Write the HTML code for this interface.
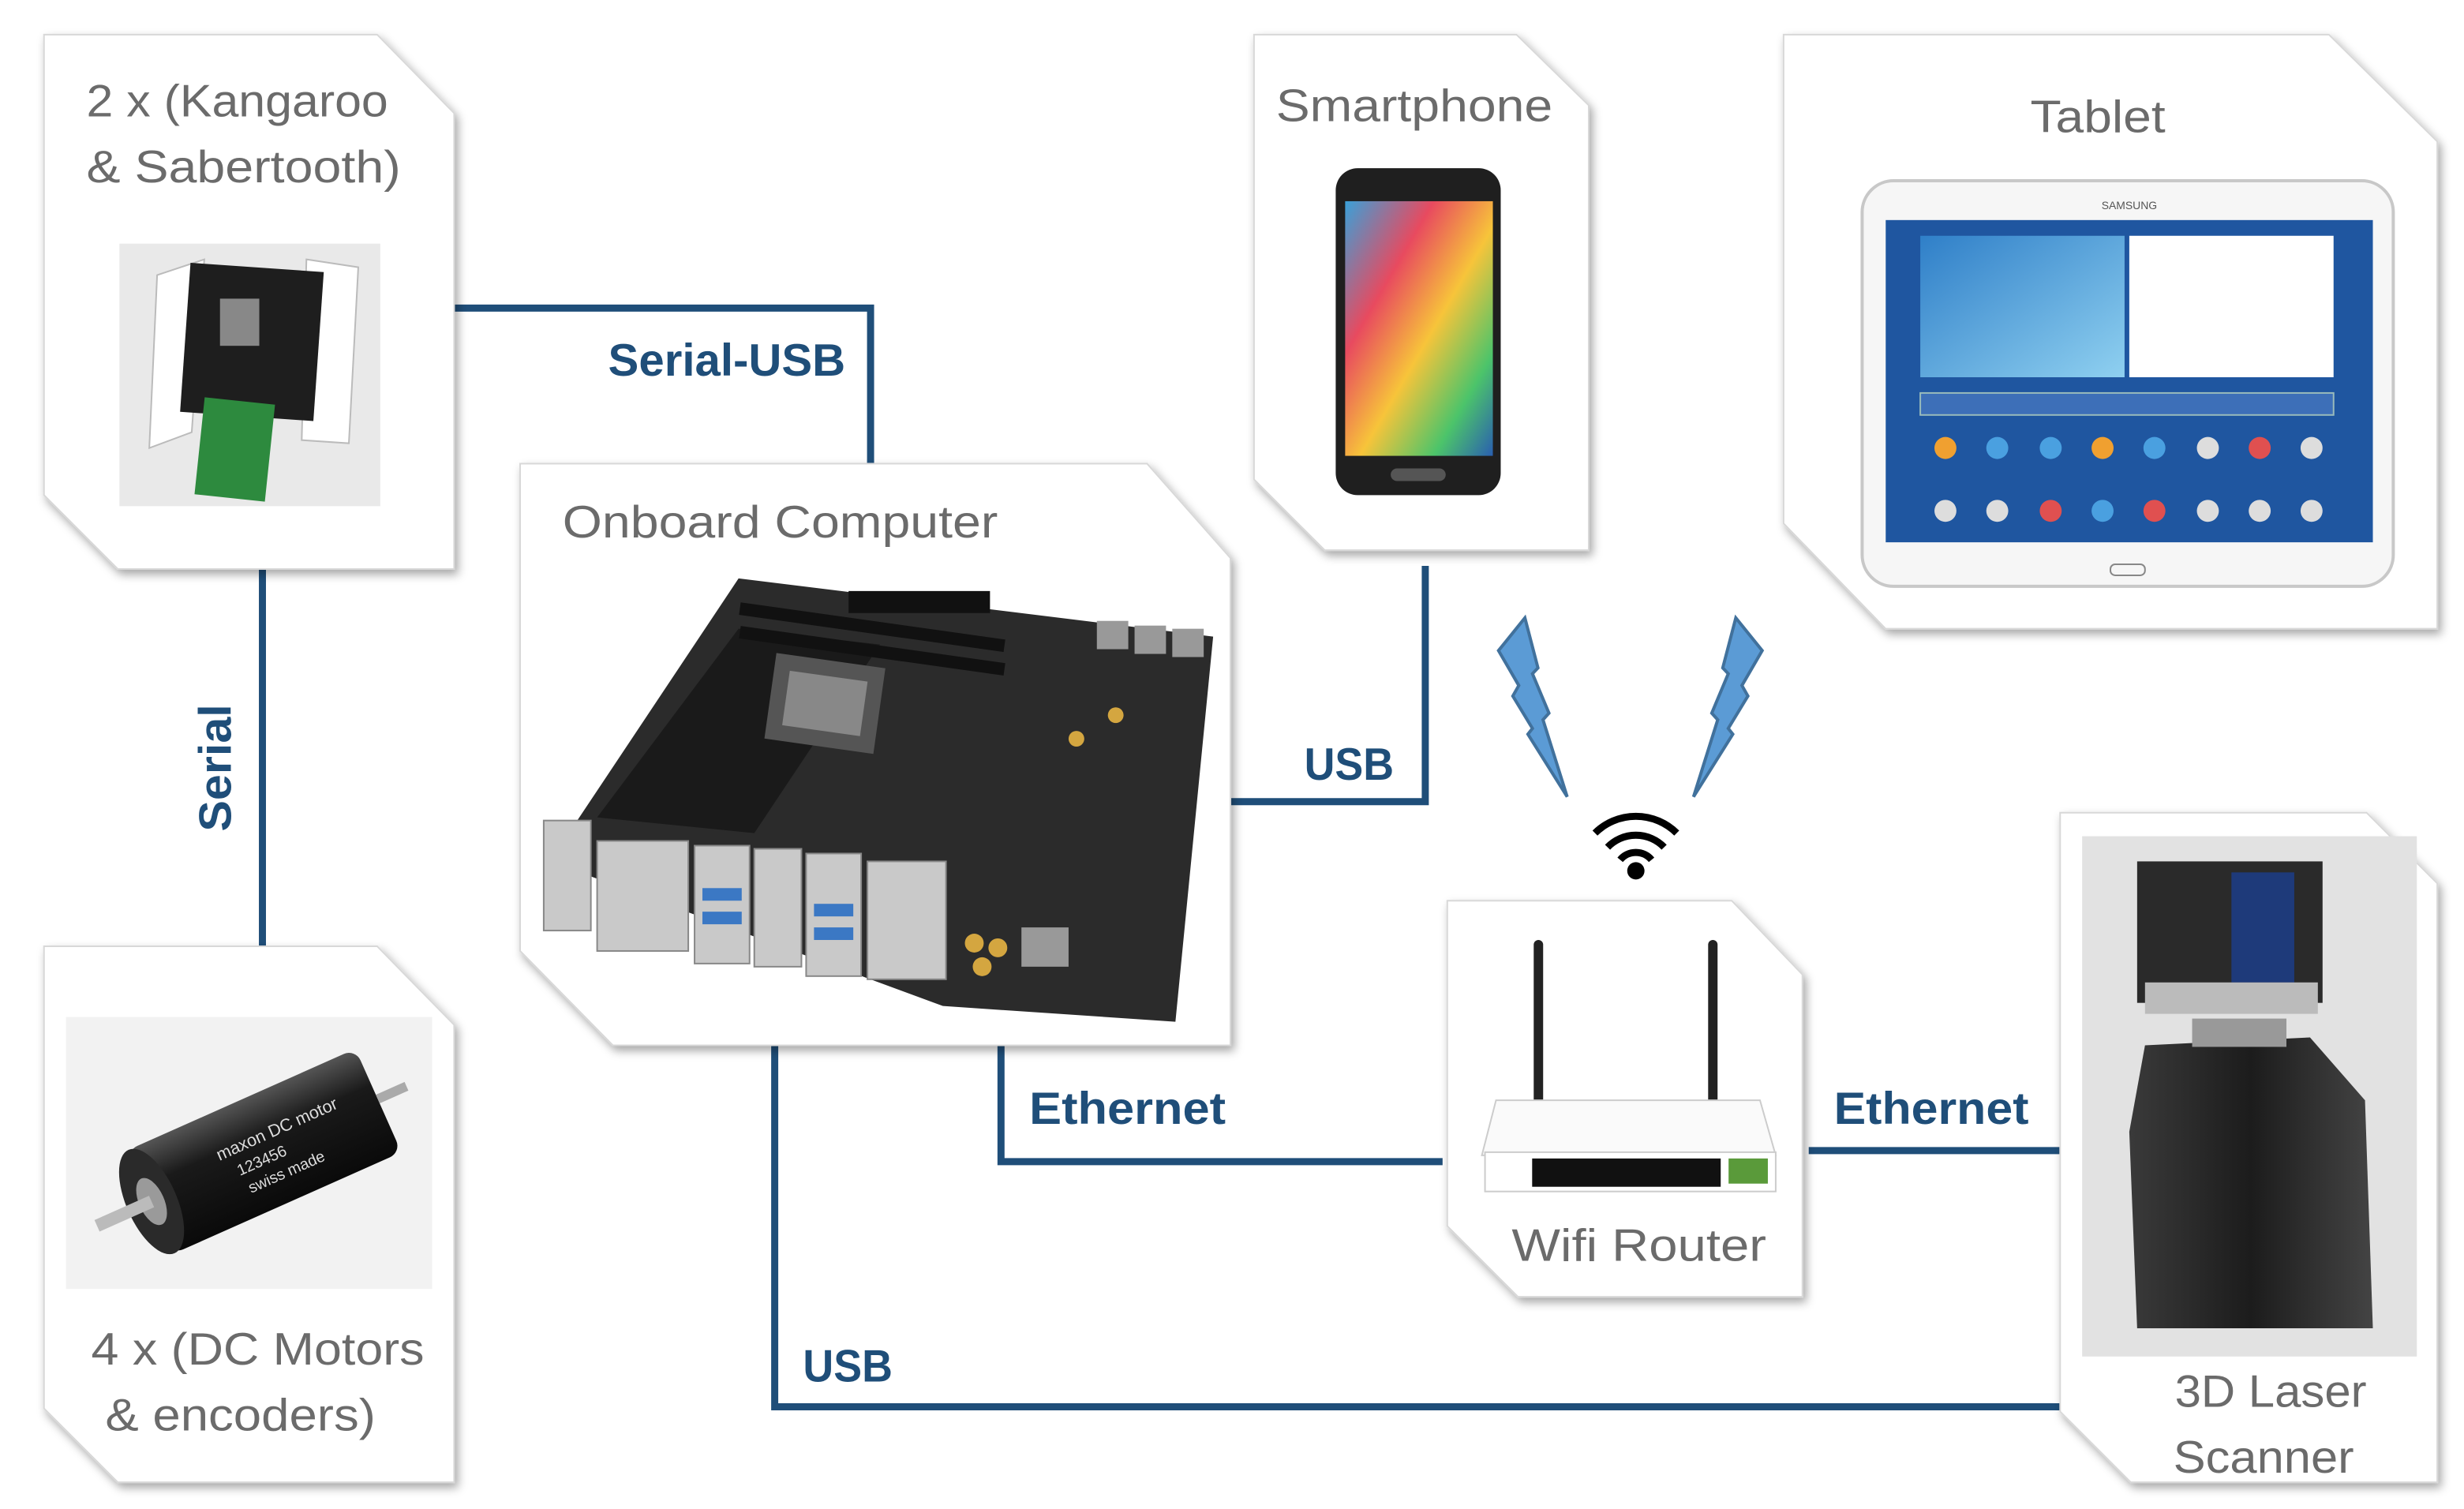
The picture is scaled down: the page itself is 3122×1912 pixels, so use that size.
<!DOCTYPE html>
<html><head><meta charset="utf-8"><style>
html,body{margin:0;padding:0;background:#fff;}
svg{display:block;}
</style></head><body>
<svg width="3122" height="1912" viewBox="0 0 1568 960" preserveAspectRatio="none" xmlns="http://www.w3.org/2000/svg">
<defs>
<filter id="sh" x="-10%" y="-10%" width="130%" height="130%"><feDropShadow dx="2" dy="3" stdDeviation="3" flood-color="#000" flood-opacity="0.35"/></filter>
<linearGradient id="phs" x1="0" y1="0" x2="1" y2="1"><stop offset="0" stop-color="#3aa0d8"/><stop offset="0.3" stop-color="#e84a5f"/><stop offset="0.55" stop-color="#f7c43a"/><stop offset="0.8" stop-color="#4cc46a"/><stop offset="1" stop-color="#2a5fb0"/></linearGradient>
<linearGradient id="sky" x1="0" y1="0" x2="1" y2="1"><stop offset="0" stop-color="#2f7fc8"/><stop offset="1" stop-color="#8fd0f0"/></linearGradient>
<linearGradient id="mot" x1="0" y1="0" x2="0" y2="1"><stop offset="0" stop-color="#555"/><stop offset="0.35" stop-color="#1a1a1a"/><stop offset="1" stop-color="#0a0a0a"/></linearGradient>
<linearGradient id="scb" x1="0" y1="0" x2="1" y2="0"><stop offset="0" stop-color="#3a3a3a"/><stop offset="0.5" stop-color="#1c1c1c"/><stop offset="1" stop-color="#444"/></linearGradient>
</defs>

<!-- connectors -->
<g stroke="#1f4e79" stroke-width="4.5" fill="none">
<polyline points="289,196 554,196 554,297"/>
<line x1="167" y1="362" x2="167" y2="603"/>
<polyline points="907,360 907,510 783,510"/>
<polyline points="637,665 637,739 918,739"/>
<line x1="1151" y1="732" x2="1311" y2="732"/>
<polyline points="493,665 493,895 1312,895"/>
</g>

<!-- cards -->
<g fill="#fff" stroke="#d8d8d8" stroke-width="1" filter="url(#sh)">
<polygon points="28,22 240,22 289,72 289,362 75,362 28,315"/>
<polygon points="28,602 240,602 289,652 289,943 75,943 28,896"/>
<polygon points="331,295 730,295 783,355 783,665 390,665 331,605"/>
<polygon points="798,22 965,22 1011,67 1011,350 843,350 798,305"/>
<polygon points="1135,22 1482,22 1551,90 1551,400 1200,400 1135,333"/>
<polygon points="921,573 1102,573 1147,620 1147,825 966,825 921,780"/>
<polygon points="1311,517 1506,517 1551,562 1551,943 1356,943 1311,898"/>
</g>

<!-- Kangaroo image -->
<rect x="76" y="155" width="166" height="167" fill="#e9e9e9"/>
<g fill="#fff" stroke="#bbb" stroke-width="1">
<polygon points="100,175 130,165 122,275 95,285"/>
<polygon points="195,165 228,170 222,282 192,280"/>
</g>
<rect x="118" y="170" width="85" height="95" fill="#1e1e1e" transform="rotate(4 160 215)"/>
<rect x="140" y="190" width="25" height="30" fill="#888"/>
<rect x="127" y="255" width="45" height="62" fill="#2d8a3e" transform="rotate(6 150 285)"/>

<!-- Motor image -->
<rect x="42" y="647" width="233" height="173" fill="#f2f2f2"/>
<g transform="rotate(-24 160 735)">
<rect x="88" y="700" width="160" height="72" rx="8" fill="url(#mot)"/>
<ellipse cx="90" cy="736" rx="16" ry="36" fill="#2a2a2a"/>
<ellipse cx="90" cy="736" rx="8" ry="16" fill="#9a9a9a"/>
<rect x="52" y="732" width="38" height="8" fill="#bbb"/>
<rect x="248" y="732" width="20" height="6" fill="#aaa"/>
<text x="140" y="730" font-family="Liberation Sans, sans-serif" font-size="11" fill="#ddd">maxon DC motor</text>
<text x="148" y="744" font-family="Liberation Sans, sans-serif" font-size="10" fill="#ddd">123456</text>
<text x="150" y="757" font-family="Liberation Sans, sans-serif" font-size="10" fill="#ddd">swiss made</text>
</g>

<!-- Motherboard -->
<polygon points="350,548 470,368 772,405 748,650 600,640" fill="#2b2b2b"/>
<polygon points="380,520 470,400 560,410 480,530" fill="#1a1a1a"/>
<rect x="490" y="420" width="70" height="55" fill="#555" transform="rotate(8 525 447)"/>
<rect x="500" y="430" width="50" height="35" fill="#888" transform="rotate(8 525 447)"/>
<g fill="#111"><rect x="540" y="376" width="90" height="14"/><rect x="470" y="395" width="170" height="8" transform="rotate(8 555 399)"/><rect x="470" y="410" width="170" height="8" transform="rotate(8 555 414)"/></g>
<g fill="#c9c9c9" stroke="#888" stroke-width="1">
<rect x="346" y="522" width="30" height="70"/><rect x="380" y="535" width="58" height="70"/>
<rect x="442" y="538" width="35" height="75"/><rect x="480" y="540" width="30" height="75"/>
<rect x="513" y="543" width="35" height="78"/><rect x="552" y="548" width="50" height="75"/>
</g>
<g fill="#3b78c4"><rect x="447" y="565" width="25" height="8"/><rect x="447" y="580" width="25" height="8"/><rect x="518" y="575" width="25" height="8"/><rect x="518" y="590" width="25" height="8"/></g>
<g fill="#d4a640"><circle cx="620" cy="600" r="6"/><circle cx="635" cy="603" r="6"/><circle cx="625" cy="615" r="6"/><circle cx="685" cy="470" r="5"/><circle cx="710" cy="455" r="5"/></g>
<rect x="650" y="590" width="30" height="25" fill="#999"/>
<g fill="#999"><rect x="698" y="395" width="20" height="18"/><rect x="722" y="398" width="20" height="18"/><rect x="746" y="400" width="20" height="18"/></g>

<!-- Phone -->
<rect x="850" y="107" width="105" height="208" rx="14" fill="#1f1f1f"/>
<rect x="856" y="128" width="94" height="162" fill="url(#phs)"/>
<rect x="885" y="298" width="35" height="8" rx="4" fill="#555"/>

<!-- Tablet -->
<rect x="1185" y="115" width="338" height="258" rx="20" fill="#f6f6f6" stroke="#c8c8c8" stroke-width="2"/>
<rect x="1200" y="140" width="310" height="205" fill="#1f56a0"/>
<rect x="1222" y="150" width="130" height="90" fill="url(#sky)"/>
<rect x="1355" y="150" width="130" height="90" fill="#fff"/>
<rect x="1222" y="250" width="263" height="14" fill="#3d6fb8" stroke="#9bb" stroke-width="1"/>
<g fill="#f0a030"><circle cx="1238" cy="285" r="7"/><circle cx="1338" cy="285" r="7"/></g>
<g fill="#4aa0e0"><circle cx="1271" cy="285" r="7"/><circle cx="1305" cy="285" r="7"/><circle cx="1371" cy="285" r="7"/><circle cx="1338" cy="325" r="7"/></g>
<g fill="#e05050"><circle cx="1438" cy="285" r="7"/><circle cx="1305" cy="325" r="7"/><circle cx="1371" cy="325" r="7"/></g>
<g fill="#ddd"><circle cx="1238" cy="325" r="7"/><circle cx="1271" cy="325" r="7"/><circle cx="1405" cy="325" r="7"/><circle cx="1438" cy="325" r="7"/><circle cx="1471" cy="325" r="7"/><circle cx="1405" cy="285" r="7"/><circle cx="1471" cy="285" r="7"/></g>
<rect x="1343" y="359" width="22" height="7" rx="3" fill="none" stroke="#888"/>
<text x="1355" y="133" font-family="Liberation Sans, sans-serif" font-size="7" fill="#555" text-anchor="middle">SAMSUNG</text>

<!-- bolts -->
<g fill="#5b9bd5" stroke="#41719c" stroke-width="2" stroke-linejoin="miter">
<polygon id="b1" points="970.4,393.1 953.6,413.9 966.5,436.1 962.7,442.8 975.2,463.4 972.3,467.1 997.3,506.9 981.9,457.9 985.7,453.7 975.2,428.6 978.7,424.9"/>
<polygon points="1104.6,393.1 1121.4,413.9 1108.5,436.1 1112.3,442.8 1099.8,463.4 1102.7,467.1 1077.7,506.9 1093.1,457.9 1089.3,453.7 1099.8,428.6 1096.3,424.9"/>
</g>
<!-- wifi -->
<g fill="none" stroke="#000" stroke-width="4.5">
<path d="M1015,530 A37,37 0 0 1 1067,530"/>
<path d="M1023,539 A25,25 0 0 1 1059,539"/>
<path d="M1031,547 A13,13 0 0 1 1051,547"/>
</g>
<ellipse cx="1041" cy="554" rx="5.5" ry="5.5" fill="#000"/>

<!-- Router -->
<rect x="976" y="598" width="6" height="105" rx="3" fill="#222"/>
<rect x="1087" y="598" width="6" height="105" rx="3" fill="#222"/>
<polygon points="952,700 1120,700 1130,735 943,735" fill="#fafafa" stroke="#ccc"/>
<rect x="945" y="733" width="185" height="25" fill="#fff" stroke="#ccc"/>
<rect x="975" y="737" width="120" height="18" fill="#111"/>
<rect x="1100" y="737" width="25" height="16" fill="#5a9a3a"/>

<!-- Scanner -->
<rect x="1325" y="532" width="213" height="331" fill="#e2e2e2"/>
<rect x="1360" y="548" width="118" height="90" fill="#2a2a2a"/>
<rect x="1420" y="555" width="40" height="70" fill="#1e3a7a"/>
<rect x="1365" y="625" width="110" height="20" fill="#bbb"/>
<polygon points="1365,665 1470,660 1505,700 1510,845 1360,845 1355,720" fill="url(#scb)"/>
<rect x="1395" y="648" width="60" height="18" fill="#999"/>

<!-- texts -->
<g font-family="Liberation Sans, sans-serif" font-size="29" fill="#6b6b6b">
<text x="55" y="74" textLength="192" lengthAdjust="spacingAndGlyphs">2 x (Kangaroo</text>
<text x="55" y="116" textLength="200" lengthAdjust="spacingAndGlyphs">&amp; Sabertooth)</text>
<text x="58" y="868" textLength="212" lengthAdjust="spacingAndGlyphs">4 x (DC Motors</text>
<text x="67" y="910" textLength="172" lengthAdjust="spacingAndGlyphs">&amp; encoders)</text>
<text x="358" y="342" textLength="277" lengthAdjust="spacingAndGlyphs">Onboard Computer</text>
<text x="812" y="77" textLength="176" lengthAdjust="spacingAndGlyphs">Smartphone</text>
<text x="1292" y="84" textLength="86" lengthAdjust="spacingAndGlyphs">Tablet</text>
<text x="962" y="802" textLength="162" lengthAdjust="spacingAndGlyphs">Wifi Router</text>
<text x="1384" y="895" textLength="122" lengthAdjust="spacingAndGlyphs">3D Laser</text>
<text x="1383" y="937" textLength="115" lengthAdjust="spacingAndGlyphs">Scanner</text>
</g>
<g font-family="Liberation Sans, sans-serif" font-size="29" font-weight="bold" fill="#1f4e79">
<text x="387" y="239" textLength="151" lengthAdjust="spacingAndGlyphs">Serial-USB</text>
<text x="830" y="496" textLength="57" lengthAdjust="spacingAndGlyphs">USB</text>
<text x="655" y="715" textLength="125" lengthAdjust="spacingAndGlyphs">Ethernet</text>
<text x="1167" y="715" textLength="124" lengthAdjust="spacingAndGlyphs">Ethernet</text>
<text x="511" y="879" textLength="57" lengthAdjust="spacingAndGlyphs">USB</text>
<text transform="translate(147,529) rotate(-90)" textLength="81" lengthAdjust="spacingAndGlyphs">Serial</text>
</g>
</svg>
</body></html>
